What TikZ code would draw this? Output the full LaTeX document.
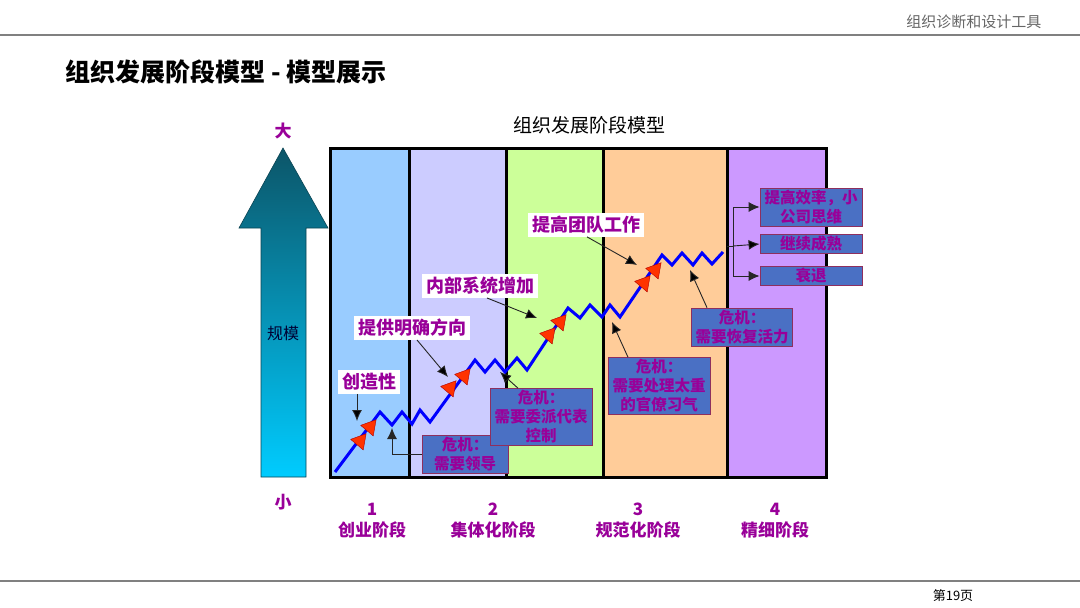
\documentclass[tikz,border=0pt]{standalone}
\usepackage{fontspec}
\setmainfont{Noto Sans CJK SC}
\usepackage{xcolor}
\usetikzlibrary{arrows.meta,positioning,shapes.geometric}

\definecolor{stagetext}{HTML}{990099}
\definecolor{crisisfill}{HTML}{4A70C4}
\definecolor{crisisline}{HTML}{8E2F5E}
\definecolor{phaseA}{HTML}{99CCFF}
\definecolor{phaseB}{HTML}{CCCCFF}
\definecolor{phaseC}{HTML}{CCFF99}
\definecolor{phaseD}{HTML}{FFCC99}
\definecolor{phaseE}{HTML}{CC99FF}
\definecolor{growthblue}{HTML}{0000FF}
\definecolor{spurred}{HTML}{FF3300}
\definecolor{rulegray}{HTML}{808080}
\definecolor{arrowtop}{HTML}{0C5568}
\definecolor{arrowbottom}{HTML}{00CCFF}

\begin{document}
\begin{tikzpicture}[x=1pt,y=-1pt,>={Latex[length=11pt,width=10pt]}]
        \tikzset{note/.style={fill=white, text=stagetext, font=\fontsize{18}{20}\selectfont\bfseries, inner xsep=4pt, inner ysep=3pt},
        crisis/.style={draw=crisisline, fill=crisisfill, text=stagetext, align=center, font=\fontsize{15.5}{19}\selectfont\bfseries, inner xsep=3pt, inner ysep=2pt, line width=0.8pt},
        outcome/.style={crisis, minimum width=102pt},
        stagename/.style={text=stagetext, align=center, font=\fontsize{17}{21}\selectfont\bfseries},
        spur/.style={draw=red!70!black, fill=spurred, regular polygon, regular polygon sides=3, minimum size=19pt, inner sep=0pt, rotate=80, line width=0.4pt},
        pointer/.style={draw=black!85, line width=0.9pt},
        }
        \useasboundingbox[fill=white] (0,0) rectangle (1080,608);

%% page header and footer
        \node [anchor=east, text=black!60, font=\fontsize{15}{17}\selectfont] (header) at (1045,22) {组织诊断和设计工具};
        \draw [rulegray, line width=1.5pt] (0,35) -- (1080,35);
        \node [anchor=west, font=\fontsize{25}{28}\selectfont\bfseries] (title) at (62,72) {组织发展阶段模型 - 模型展示};
        \draw [rulegray, line width=1.2pt] (0,581) -- (1080,581);
        \node [font=\fontsize{13}{15}\selectfont] (page) at (953,596) {第19页};

%% stage columns
        \node [font=\fontsize{19}{21}\selectfont] (charttitle) at (589,125) {组织发展阶段模型};
        \fill [phaseA] (330,148) rectangle (409,477);
        \fill [phaseB] (409,148) rectangle (506,477);
        \fill [phaseC] (506,148) rectangle (603,477);
        \fill [phaseD] (603,148) rectangle (727,477);
        \fill [phaseE] (727,148) rectangle (826,477);
        \foreach \x in {409,506,603,727}
            \draw [line width=3pt] (\x,148) -- (\x,477);
        \draw [line width=3pt] (330,148) rectangle (826,477);

%% size arrow
        \shade [top color=arrowtop, bottom color=arrowbottom, draw=arrowtop!80!black, line width=0.6pt]
            (261,477) -- (261,228) -- (239,228) -- (283,148) -- (328,228) -- (306,228) -- (306,477) -- cycle;
        \node [text=black!80!blue, font=\fontsize{16}{18}\selectfont] (scale) at (283,333) {规模};
        \node [stagename] (big) at (283,131) {大};
        \node [stagename] (small) at (283,502) {小};

%% growth line
        \draw [growthblue, line width=3pt] (335,472) -- (380,412) -- (392,425) -- (402,412) -- (412,424) -- (420,410) -- (430,422)
            -- (475,360) -- (485,372) -- (495,360) -- (505,372) -- (517,358) -- (527,370)
            -- (568,308) -- (580,318) -- (590,305) -- (602,317) -- (610,305) -- (620,317)
            -- (662,255) -- (672,265) -- (682,253) -- (693,265) -- (702,253) -- (712,264) -- (723,252);
        \foreach \p [count=\i] in {(360,441),(370,427),(450,388),(464,376),(549,335),(560,322),(644,283),(655,270)}
            \node [spur] (spur\i) at \p {};

%% points on the line
        \coordinate (hitA) at (357,421);
        \coordinate (hitB) at (448,377);
        \coordinate (hitC) at (537,318);
        \coordinate (hitD) at (637,265);
        \coordinate (hitE) at (392,428);
        \coordinate (hitF) at (500,372);
        \coordinate (hitG) at (612,322);
        \coordinate (hitH) at (690,270);
        \coordinate (split) at (727,246);
        \coordinate (fork) at (733,246);

%% notes
        \node [note] (create) at (369,382) {创造性};
        \node [note] (direct) at (412,328) {提供明确方向};
        \node [note] (system) at (480,286) {内部系统增加};
        \node [note] (team) at (586,225) {提高团队工作};

        \node [crisis, minimum width=86pt] (lead) at (465,454) {危机：\\需要领导};
        \node [crisis, minimum width=102pt] (deleg) at (541,417) {危机：\\需要委派代表\\控制};
        \node [crisis, minimum width=102pt] (bureau) at (659,386) {危机：\\需要处理太重\\的官僚习气};
        \node [crisis, minimum width=101pt] (revive) at (742,327) {危机：\\需要恢复活力};

        \node [outcome] (effic) at (811,207) {提高效率，小\\公司思维};
        \node [outcome] (mature) at (811,244) {继续成熟};
        \node [outcome] (decline) at (811,276) {衰退};

%% stage names
        \node [stagename] (stage1) at (372,521) {1\\创业阶段};
        \node [stagename] (stage2) at (493,521) {2\\集体化阶段};
        \node [stagename] (stage3) at (638,521) {3\\规范化阶段};
        \node [stagename] (stage4) at (775,521) {4\\精细阶段};

%% paths
        \path [pointer] (create.south -| hitA) edge[->] (hitA)
                    ([xshift=5pt]direct.south) edge[->] (hitB)
                    ([xshift=7pt]system.south) edge[->] (hitC)
                    ([xshift=1pt]team.south) edge[->] (hitD)
                    ([xshift=-23pt]deleg.north) edge[->] (hitF)
                    ([xshift=-31pt]bureau.north) edge[->] (hitG)
                    ([xshift=-35pt]revive.north) edge[->] (hitH)
                    (fork) edge[->] (mature.west)
                    ;
        \draw [pointer, ->] (lead.west) -| (hitE);
        \draw [pointer] (split) -- (fork);
        \draw [pointer, ->] (fork) |- (effic.west);
        \draw [pointer, ->] (fork) |- (decline.west);
    \end{tikzpicture}
\end{document}
